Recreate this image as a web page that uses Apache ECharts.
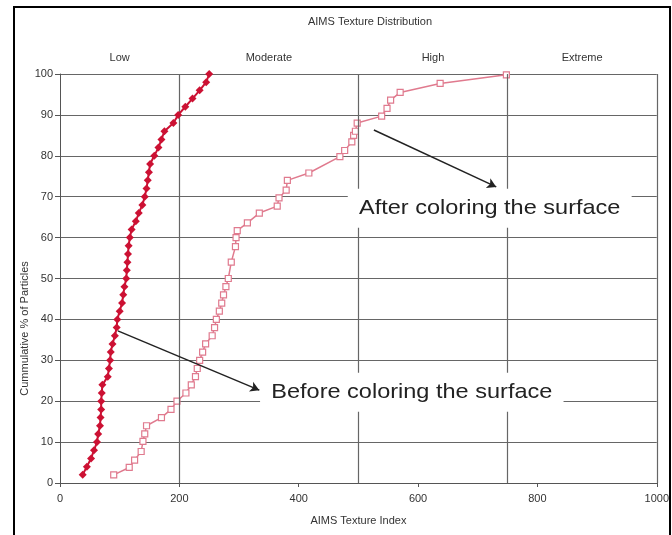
<!DOCTYPE html>
<html><head><meta charset="utf-8">
<script src="https://cdn.jsdelivr.net/npm/echarts@6/dist/echarts.min.js"></script>
<style>html,body{margin:0;padding:0;background:#fff}#c{width:672px;height:535px}</style>
</head><body><div id="c"></div>
<script>
// Before coloring: cumulative % and texture index
const beforePct = [2,4,6,8,10,12,14,16,18,20,22,24,26,28,30,32,34,36,38,40,42,44,46,48,50,52,54,56,58,60,62,64,66,68,70,72,74,76,78,80,82,84,86,88,90,92,94,96,98,100];
const beforeIdx = [38,45,52,57,62,64,67,68,69,69,70,71,80,82,84,85,88,92,95,96,100,104,106,108,111,112,113,114,115,117,120,127,132,138,142,145,147,149,151,158,165,170,175,190,198,210,222,234,245,250];
// After coloring: cumulative % and texture index
const afterPct = [2,3.8,5.6,7.7,10.2,12,14,16,18,20,22,24,26,28,30,32,34,36,38,40,42,44,46,48,50,54,57.8,60,61.7,63.6,66,67.7,69.7,71.6,74,75.8,79.8,81.3,83.4,85,86,88,89.7,91.6,93.6,95.5,97.7,99.8];
const afterIdx = [90,116,125,136,139,142,145,170,186,196,211,220,227,230,234,239,244,255,259,262,267,271,274,278,282,287,294,295,297,314,334,364,367,379,381,417,469,477,489,492,495,498,539,548,554,570,637,748];
const classBounds = [0,200,500,750,1000];
const classNames = ['Low','Moderate','High','Extreme'];
// annotations in data coords: arrow [x1,y1,x2,y2], text left/middle anchor
const afterArrow = [526,86.3,731,72.4];
const afterText = {x:501,y:67.2,text:'After coloring the surface'};
const beforeArrow = [97,37.2,334,22.7];
const beforeText = {x:354,y:22.2,text:'Before coloring the surface'};

const font = 'Liberation Sans, Arial, sans-serif';
const chart = echarts.init(document.getElementById('c'));
const areas = classNames.map((n,i)=>[{xAxis:classBounds[i],yAxis:0,name:n},{xAxis:classBounds[i+1],yAxis:100}]);
const lines = classBounds.slice(1).map(v=>({xAxis:v}));
chart.setOption({
  animation:false,
  backgroundColor:'#fff',
  title:{text:'AIMS Texture Distribution',left:365,top:11,textAlign:'center',
    textStyle:{fontFamily:font,fontSize:11,fontWeight:'normal',color:'#333'}},
  grid:{left:60,right:13,top:74,bottom:52},
  xAxis:{type:'value',min:0,max:1000,interval:200,
    name:'AIMS Texture Index',nameLocation:'middle',nameGap:32,nameMoveOverlap:false,
    nameTextStyle:{fontFamily:font,fontSize:11,color:'#333'},
    axisLine:{lineStyle:{color:'#555',width:1}},
    axisTick:{show:true,length:4,lineStyle:{color:'#555'}},
    axisLabel:{fontFamily:font,fontSize:11,color:'#333',margin:10,formatter:v=>String(v)},
    splitLine:{show:false}},
  yAxis:{type:'value',min:0,max:100,interval:10,
    name:'Cummulative % of Particles',nameLocation:'middle',nameGap:30,nameMoveOverlap:false,
    nameTextStyle:{fontFamily:font,fontSize:11,color:'#333',padding:[0,100,0,0]},
    axisLine:{show:true,lineStyle:{color:'#555',width:1}},
    axisTick:{show:true,length:5,lineStyle:{color:'#555'}},
    axisLabel:{fontFamily:font,fontSize:11,color:'#333',margin:7},
    splitLine:{show:true,lineStyle:{color:'#666',width:1.2}}},
  series:[
    {name:'grid',type:'line',data:[],
      markArea:{silent:true,itemStyle:{color:'rgba(0,0,0,0)'},
        label:{show:true,position:'top',distance:11,fontFamily:font,fontSize:11,color:'#333'},data:areas},
      markLine:{silent:true,symbol:['none','none'],label:{show:false},
        lineStyle:{color:'#666',width:1.2,type:'solid'},data:lines}},
    {name:'Before',type:'line',data:beforeIdx.map((x,i)=>[x,beforePct[i]]),
      symbol:'diamond',symbolSize:8,z:5,
      lineStyle:{color:'#cc1133',width:2},itemStyle:{color:'#cc1133'}},
    {name:'After',type:'line',data:afterIdx.map((x,i)=>[x,afterPct[i]]),
      symbol:'rect',symbolSize:6,showAllSymbol:true,z:4,
      lineStyle:{color:'#e07a8e',width:1.5},itemStyle:{color:'#fff',borderColor:'#e07a8e',borderWidth:1.2}},
    {name:'arrows',type:'line',data:[],z:10,
      markLine:{silent:true,symbol:['none','arrow'],symbolSize:[8,9],label:{show:false},
        lineStyle:{color:'#222',width:1.5,type:'solid'},
        data:[[{coord:[afterArrow[0],afterArrow[1]]},{coord:[afterArrow[2],afterArrow[3]]}],
              [{coord:[beforeArrow[0],beforeArrow[1]]},{coord:[beforeArrow[2],beforeArrow[3]]}]]}}
  ]
});
const sx = 1.12;
function note(t){
  const p = chart.convertToPixel({gridIndex:0},[t.x,t.y]);
  return {type:'text',x:p[0]-10*sx,y:p[1],scaleX:sx,z:50,
    style:{text:t.text,font:'21px '+font,fill:'#222',textAlign:'left',textVerticalAlign:'middle',
      backgroundColor:'#fff',padding:[9,10,9,10]}};
}
chart.setOption({graphic:[
  {type:'rect',shape:{x:14,y:7,width:656,height:540},style:{fill:'none',stroke:'#000',lineWidth:2},z:100},
  note(afterText),note(beforeText)
]});
</script></body></html>
